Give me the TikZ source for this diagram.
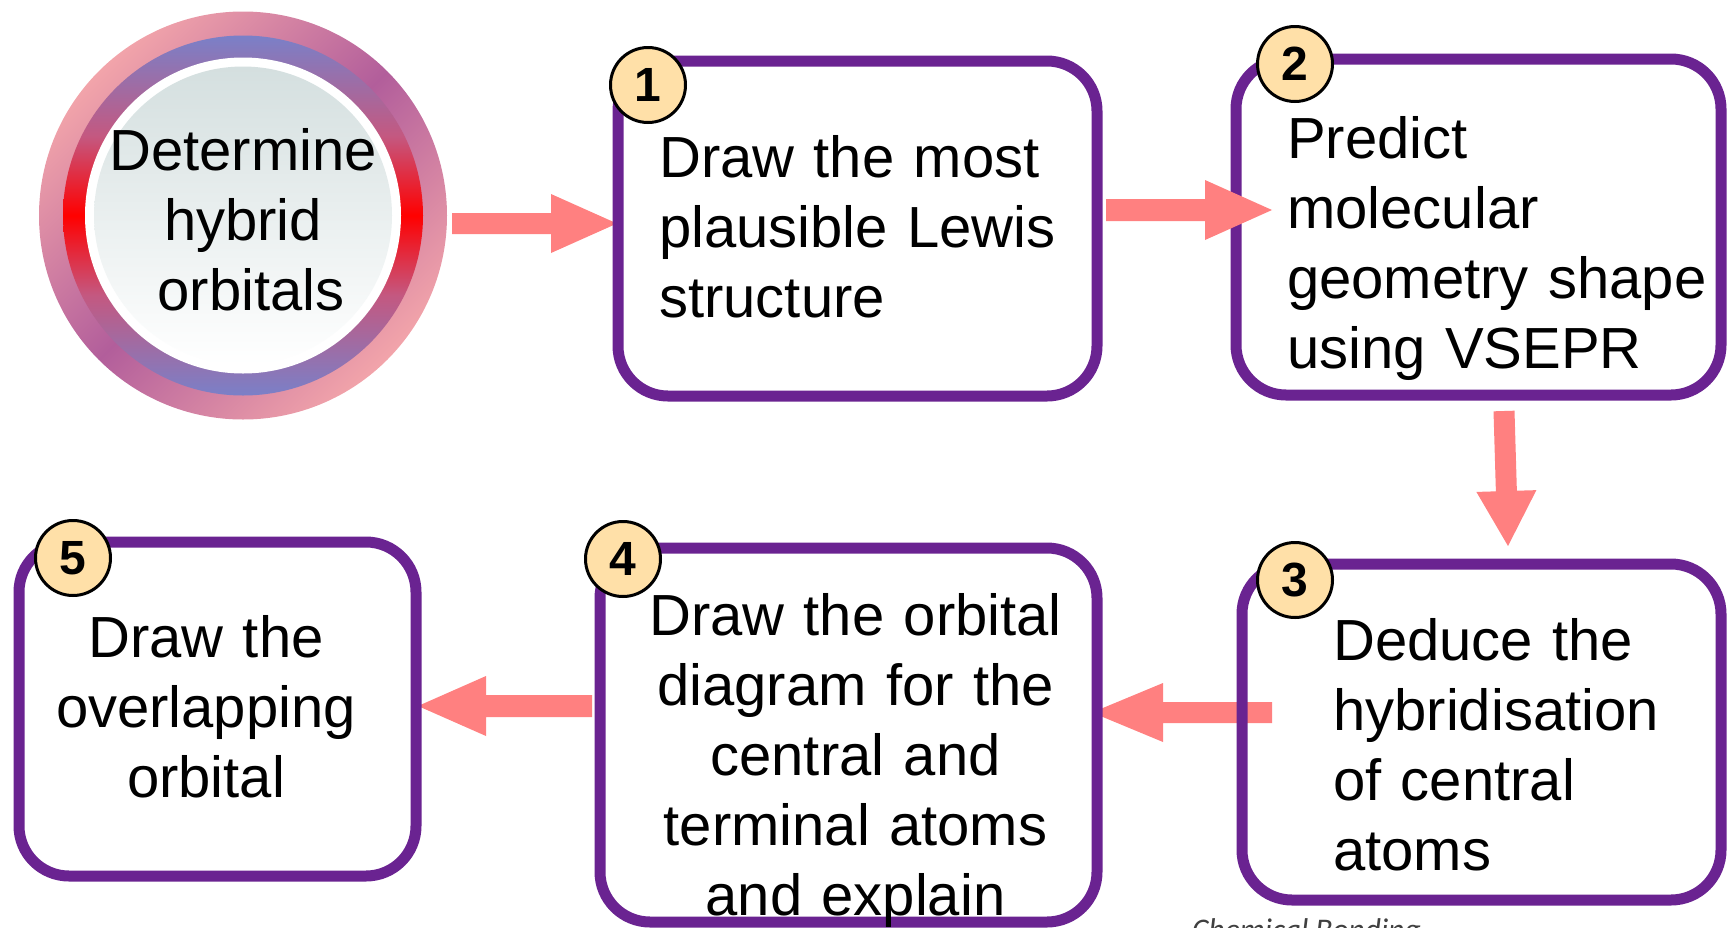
\documentclass[tikz,border=0pt]{standalone}
\usepackage{fontspec}
\setmainfont{Liberation Sans}
\newfontfamily\carlito{Carlito}
\usetikzlibrary{calc}
\definecolor{boxpurple}{RGB}{106,35,145}
\definecolor{arrowpink}{RGB}{255,128,128}
\definecolor{badgefill}{RGB}{255,224,168}
\definecolor{ringpink}{RGB}{242,164,170}
\definecolor{ringpurple}{RGB}{178,94,155}
\definecolor{ringblue}{RGB}{122,128,200}
\definecolor{ringmauve}{RGB}{196,88,128}
\definecolor{discgray}{RGB}{212,223,223}
\definecolor{footgray}{RGB}{64,64,64}
\pgfdeclareverticalshading{ringshade}{100bp}{color(0bp)=(ringblue); color(25bp)=(ringblue); color(39bp)=(ringmauve); color(50bp)=(red); color(61bp)=(ringmauve); color(75bp)=(ringblue); color(100bp)=(ringblue)}
\newcommand{\myblockarrow}[5]{%
  \coordinate (hb) at ($(#2)!#5!(#1)$);
  \fill[arrowfill] ($(#1)!#3!90:(#2)$) -- ($(hb)!#3!90:(#2)$) -- ($(hb)!#4!90:(#2)$) -- (#2)
    -- ($(hb)!#4!-90:(#2)$) -- ($(hb)!#3!-90:(#2)$) -- ($(#1)!#3!-90:(#2)$) -- cycle;
}
\tikzset{
  stepbox/.style={draw=boxpurple, line width=11pt, rounded corners=50pt, inner sep=0pt},
  badge/.style={circle, draw=black, line width=3pt, fill=badgefill, minimum size=75pt, inner sep=0pt,
    font=\bfseries\fontsize{48}{48}\selectfont},
  bodytext/.style={inner sep=0pt, text width=470pt, font=\fontsize{58}{70}\selectfont},
  arrowfill/.style={fill=arrowpink}
}
\begin{document}
\begin{tikzpicture}[x=1pt,y=-1pt]
\useasboundingbox (0,0) rectangle (1727,927);
% circle
\node[circle, minimum size=408pt, inner sep=0pt, shading=axis, top color=ringpink, bottom color=ringpink, middle color=ringpurple, shading angle=45] (circ) at (243,215.5) {};
\path[shading=ringshade] (circ.center) circle (180);
\fill[white] (circ.center) circle (158);
\path[top color=discgray, bottom color=white] (circ.center) circle (149);
% arrows under boxes
\coordinate (aAs) at (452,223.5); \coordinate (aAt) at (617,223.5);
\coordinate (aCs) at (1504,411); \coordinate (aCt) at (1508,546);
\coordinate (aDs) at (1272,712.5); \coordinate (aDt) at (1092,712.5);
\coordinate (aEs) at (592,706); \coordinate (aEt) at (418,706);
\coordinate (aBs) at (1106,210); \coordinate (aBt) at (1272,210);
\myblockarrow{aAs}{aAt}{10.5pt}{29.5pt}{66pt}
\myblockarrow{aCs}{aCt}{10.5pt}{30pt}{55pt}
\myblockarrow{aDs}{aDt}{10.5pt}{29.5pt}{71pt}
\myblockarrow{aEs}{aEt}{11pt}{30pt}{68pt}
% boxes
\node[stepbox, minimum width=479pt, minimum height=335pt] (b1) at (857.5,228.5) {};
\node[stepbox, minimum width=485pt, minimum height=336pt] (b2) at (1478.5,227) {};
\node[stepbox, minimum width=479pt, minimum height=336pt] (b3) at (1481.5,732) {};
\node[stepbox, minimum width=497pt, minimum height=374pt] (b4) at (848.5,735) {};
\node[stepbox, minimum width=397pt, minimum height=334pt] (b5) at (217.5,709) {};
% arrow over box 2
\myblockarrow{aBs}{aBt}{11pt}{30pt}{67pt}
% badges
\node[badge] (n1) at (648,85) {1};
\node[badge] (n2) at (1295,64) {2};
\node[badge] (n3) at (1295,580) {3};
\node[badge] (n4) at (623,559) {4};
\node[badge] (n5) at (73,558) {5};
% texts
\node[bodytext, align=center, anchor=base] (t0) at (243,170) {Determine\\hybrid\\\hspace*{16pt}orbitals};
\node[bodytext, align=left, anchor=base west] (t1) at (659,177) {Draw the most\\plausible Lewis\\structure};
\node[bodytext, align=left, anchor=base west] (t2) at (1287,158) {Predict\\molecular\\geometry shape\\using VSEPR};
\node[bodytext, align=left, anchor=base west] (t3) at (1333,660) {Deduce the\\hybridisation\\of central\\atoms};
\node[bodytext, align=center, anchor=base] (t4) at (855.5,635) {Draw the orbital\\diagram for the\\central and\\terminal atoms\\and explain};
\node[bodytext, align=center, anchor=base] (t5) at (206,657) {Draw the\\overlapping\\orbital};
\node[anchor=base west, inner sep=0pt, text=footgray, font=\carlito\itshape\fontsize{31.5}{31.5}\selectfont] (cb) at (1192,940) {Chemical Bonding};
\end{tikzpicture}
\end{document}
